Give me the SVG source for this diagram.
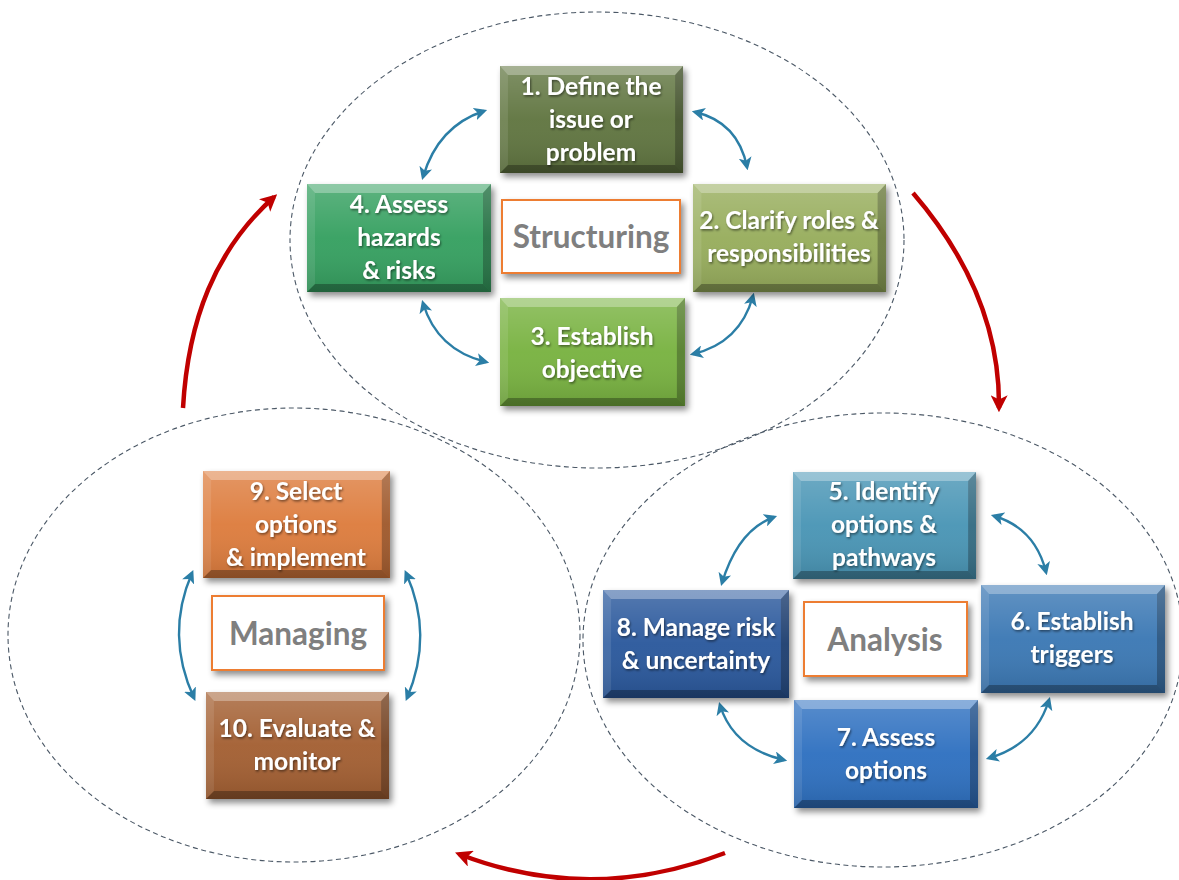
<svg xmlns="http://www.w3.org/2000/svg" width="1179" height="880" viewBox="0 0 1179 880">
<style>
.ell{fill:none;stroke:#4b5866;stroke-width:1.1;stroke-dasharray:5 3.5}
.lbl{font-family:Lato,"Open Sans","Liberation Sans",sans-serif;font-weight:bold;font-size:24.5px;fill:#ffffff;text-anchor:middle}
.ttl{font-family:Lato,"Open Sans","Liberation Sans",sans-serif;font-weight:bold;font-size:31.5px;fill:#7f7f7f;text-anchor:middle}
.tbox{fill:#ffffff;stroke:#ed7d31;stroke-width:2}
.blue{fill:none;stroke:#2b7ea6;stroke-width:2.4;marker-start:url(#bh);marker-end:url(#bh)}
.red{fill:none;stroke:#c00000;stroke-width:4.5;marker-end:url(#rh)}
</style>
<defs>
<filter id="sh" x="-10%" y="-10%" width="125%" height="130%">
<feDropShadow dx="3" dy="4" stdDeviation="3" flood-color="#000" flood-opacity="0.45"/>
</filter>
<filter id="ts" x="-5%" y="-10%" width="110%" height="130%">
<feDropShadow dx="1" dy="1.5" stdDeviation="1" flood-color="#000" flood-opacity="0.5"/>
</filter>
<marker id="bh" viewBox="0 0 12 12" refX="9" refY="6" markerWidth="13" markerHeight="13" markerUnits="userSpaceOnUse" orient="auto-start-reverse">
<path d="M0,0 L12,6 L0,12 L3,6 Z" fill="#2b7ea6"/>
</marker>
<marker id="rh" viewBox="0 0 12 12" refX="9" refY="6" markerWidth="17" markerHeight="17" markerUnits="userSpaceOnUse" orient="auto">
<path d="M0,0 L12,6 L0,12 L3,6 Z" fill="#c00000"/>
</marker>
<linearGradient id="gloss" x1="0" y1="0" x2="0" y2="1">
<stop offset="0" stop-color="#fff" stop-opacity="0.2"/>
<stop offset="0.5" stop-color="#fff" stop-opacity="0.04"/>
<stop offset="1" stop-color="#000" stop-opacity="0.12"/>
</linearGradient>
<g id="bevel">
<polygon points="0,0 184,0 176,9 8,9" fill="#fff" fill-opacity="0.3"/>
<polygon points="184,0 184,107 176,99 176,9" fill="#000" fill-opacity="0.28"/>
<polygon points="0,107 184,107 176,99 8,99" fill="#000" fill-opacity="0.3"/>
<polygon points="0,0 8,9 8,99 0,107" fill="#fff" fill-opacity="0.1"/>
<rect x="0" y="0" width="184" height="107" fill="url(#gloss)"/>
</g>
</defs>
<rect width="1179" height="880" fill="#ffffff"/>

<g id="regions">
<ellipse class="ell" cx="597" cy="240" rx="307" ry="228"/>
<ellipse class="ell" cx="294" cy="635" rx="286" ry="227"/>
<ellipse class="ell" cx="883" cy="640" rx="300" ry="227"/>
</g>

<g id="connectors">
<path class="blue" d="M484,111 Q438,126 423,177"/>
<path class="blue" d="M695,112 Q738,122 747,167"/>
<path class="blue" d="M753,296 Q740,343 693,354"/>
<path class="blue" d="M423,303 Q437,350 486,362"/>
<path class="blue" d="M774,517 Q738,530 722,583"/>
<path class="blue" d="M994,516 Q1035,528 1046,572"/>
<path class="blue" d="M1049,700 Q1035,745 989,758"/>
<path class="blue" d="M720,705 Q733,748 784,760"/>
<path class="blue" d="M192,573 Q165,635 194,698"/>
<path class="blue" d="M406,573 Q434,635 407,698"/>
<path class="red" d="M183,408 C188,320 215,250 274,197"/>
<path class="red" d="M913,193 C962,250 1000,320 999,408"/>
<path class="red" d="M725,853 Q590,905 459,854"/>
</g>

<g id="n1">
<rect x="500" y="66" width="183" height="107" fill="#617440" filter="url(#sh)"/>
<use href="#bevel" transform="translate(500,66) scale(0.995,1)"/>
<text class="lbl" filter="url(#ts)"><tspan x="591" y="95">1. Define the</tspan><tspan x="591" y="128">issue or</tspan><tspan x="591" y="161">problem</tspan></text>
</g>
<g id="n2">
<rect x="693" y="184" width="193" height="108" fill="#97ad5c" filter="url(#sh)"/>
<use href="#bevel" transform="translate(693,184) scale(1.049,1.01)"/>
<text class="lbl" filter="url(#ts)"><tspan x="789" y="229">2. Clarify roles &amp;</tspan><tspan x="789" y="262">responsibilities</tspan></text>
</g>
<g id="n3">
<rect x="500" y="298" width="185" height="108" fill="#78b241" filter="url(#sh)"/>
<use href="#bevel" transform="translate(500,298) scale(1.005,1.01)"/>
<text class="lbl" filter="url(#ts)"><tspan x="592" y="345">3. Establish</tspan><tspan x="592" y="378">objective</tspan></text>
</g>
<g id="n4">
<rect x="307" y="184" width="184" height="108" fill="#35a060" filter="url(#sh)"/>
<use href="#bevel" transform="translate(307,184) scale(1,1.01)"/>
<text class="lbl" filter="url(#ts)"><tspan x="399" y="213">4. Assess</tspan><tspan x="399" y="246">hazards</tspan><tspan x="399" y="279">&amp; risks</tspan></text>
</g>
<g id="structuring">
<rect class="tbox" x="502" y="200" width="178" height="73" filter="url(#sh)"/>
<text class="ttl" x="591" y="248">Structuring</text>
</g>

<g id="n5">
<rect x="793" y="472" width="183" height="107" fill="#4895b5" filter="url(#sh)"/>
<use href="#bevel" transform="translate(793,472) scale(0.995,1)"/>
<text class="lbl" filter="url(#ts)"><tspan x="884" y="500">5. Identify</tspan><tspan x="884" y="533">options &amp;</tspan><tspan x="884" y="566">pathways</tspan></text>
</g>
<g id="n6">
<rect x="981" y="585" width="184" height="108" fill="#3b78b4" filter="url(#sh)"/>
<use href="#bevel" transform="translate(981,585) scale(1,1.01)"/>
<text class="lbl" filter="url(#ts)"><tspan x="1072" y="630">6. Establish</tspan><tspan x="1072" y="663">triggers</tspan></text>
</g>
<g id="n7">
<rect x="794" y="700" width="184" height="108" fill="#2f6fc0" filter="url(#sh)"/>
<use href="#bevel" transform="translate(794,700) scale(1,1.01)"/>
<text class="lbl" filter="url(#ts)"><tspan x="886" y="746">7. Assess</tspan><tspan x="886" y="779">options</tspan></text>
</g>
<g id="n8">
<rect x="603" y="590" width="186" height="108" fill="#29599c" filter="url(#sh)"/>
<use href="#bevel" transform="translate(603,590) scale(1.011,1.01)"/>
<text class="lbl" filter="url(#ts)"><tspan x="696" y="636">8. Manage risk</tspan><tspan x="696" y="669">&amp; uncertainty</tspan></text>
</g>
<g id="analysis">
<rect class="tbox" x="804" y="602" width="163" height="74" filter="url(#sh)"/>
<text class="ttl" x="885" y="651">Analysis</text>
</g>

<g id="n9">
<rect x="203" y="471" width="187" height="107" fill="#dd7b3c" filter="url(#sh)"/>
<use href="#bevel" transform="translate(203,471) scale(1.016,1)"/>
<text class="lbl" filter="url(#ts)"><tspan x="296" y="500">9. Select</tspan><tspan x="296" y="533">options</tspan><tspan x="296" y="566">&amp; implement</tspan></text>
</g>
<g id="managing">
<rect class="tbox" x="212" y="596" width="172" height="74" filter="url(#sh)"/>
<text class="ttl" x="298" y="645">Managing</text>
</g>
<g id="n10">
<rect x="206" y="692" width="183" height="107" fill="#a35f33" filter="url(#sh)"/>
<use href="#bevel" transform="translate(206,692) scale(0.995,1)"/>
<text class="lbl" filter="url(#ts)"><tspan x="297" y="737">10. Evaluate &amp;</tspan><tspan x="297" y="770">monitor</tspan></text>
</g>
</svg>
